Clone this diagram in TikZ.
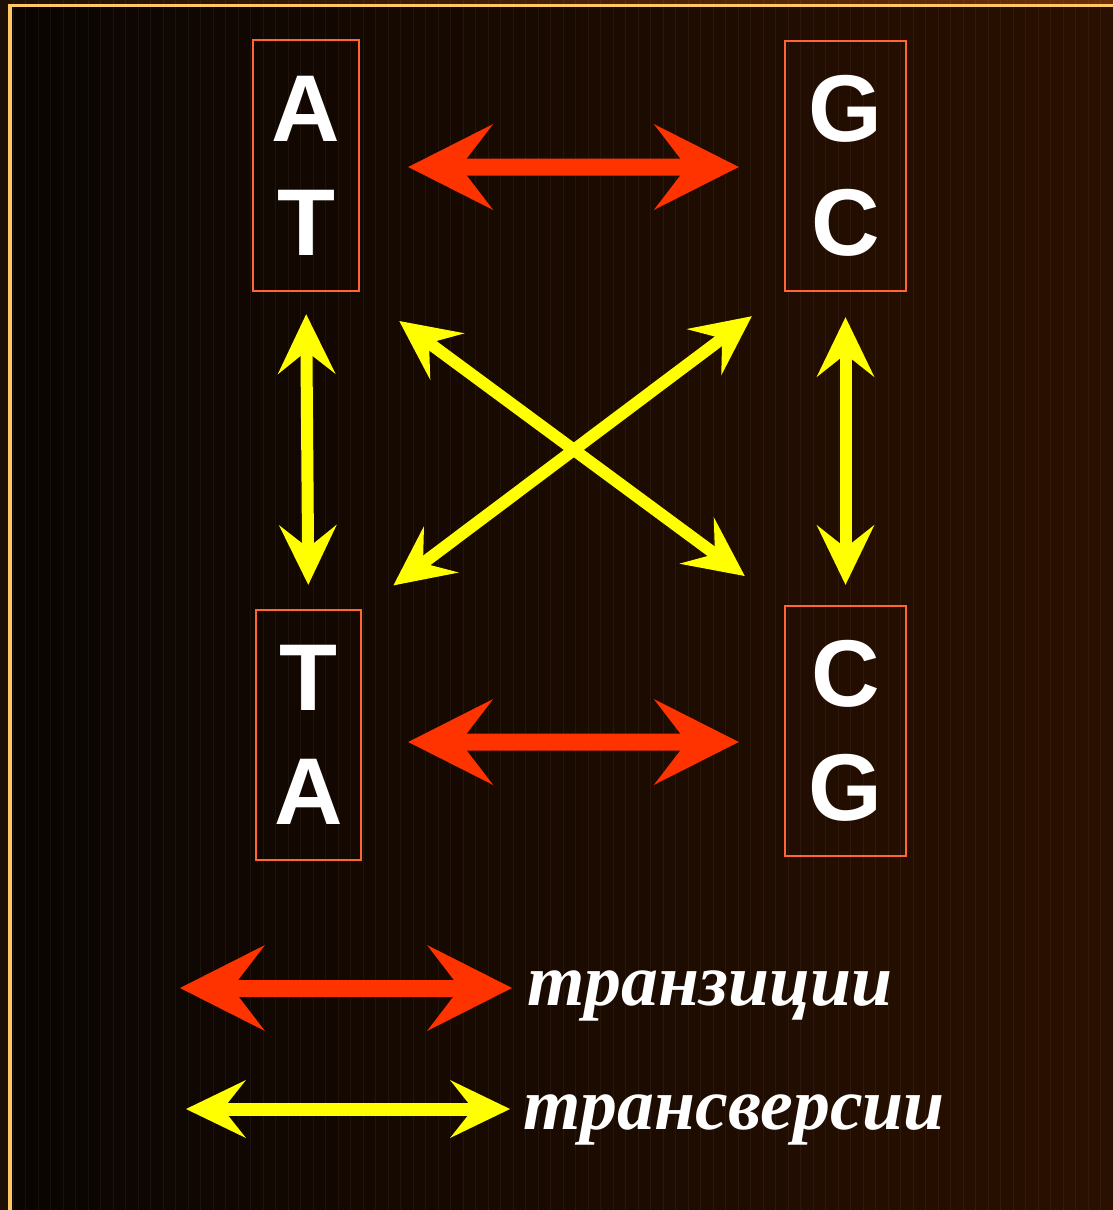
\documentclass[tikz,border=0pt]{standalone}
\usepackage{fontspec}
\setmainfont{Liberation Serif}
\newfontfamily\basefont{Liberation Sans}
\usetikzlibrary{arrows.meta}
\definecolor{mutred}{HTML}{FF3300}
\definecolor{mutyellow}{HTML}{FFFF00}
\definecolor{mutbox}{HTML}{FF6633}
\definecolor{mutgold}{HTML}{FFC864}
\definecolor{mutdark}{HTML}{0A0502}
\definecolor{mutbrown}{HTML}{2A1000}
\definecolor{mutrim}{HTML}{6A2E08}
\definecolor{mutrimdark}{HTML}{1E1006}
\tikzset{
  pair/.style={rectangle, draw=mutbox, line width=0.05cm, text=white, align=center,
               inner sep=0pt, font=\basefont\bfseries\fontsize{54pt}{65pt}\selectfont},
  transit/.style={draw=mutred, line width=0.34cm,
                  >={Stealth[length=1.7cm, width=1.72cm, inset=0.66cm, line width=0pt]}, <->},
  transvers/.style={draw=mutyellow, line width=0.24cm,
                  >={Stealth[length=1.2cm, width=1.16cm, inset=0.46cm, line width=0pt]}, <->},
  legend/.style={text=white, inner sep=0pt, font=\bfseries\itshape\fontsize{42pt}{50pt}\selectfont},
  stripe/.style={white, opacity=0.05, line width=0.5pt},
}

\begin{document}
\begin{tikzpicture}[x=0.02cm,y=-0.02cm]
  \useasboundingbox (0,0) rectangle (1113,1210);
  % slide background and frame
  \shade[left color=mutrimdark, right color=mutrim] (0,0) rectangle (1113,1210);
  \shade[left color=mutdark, right color=mutbrown] (10,5.5) rectangle (1113,1210);
  \foreach \x in {13,25.5,...,1113}
    \draw[stripe] (\x,0) -- (\x,1210);
  \draw[mutgold, line width=0.08cm] (10,1210) -- (10,5.5) -- (1113,5.5);

  % base pairs
  \node[pair, minimum width=2.12cm, minimum height=5.02cm] (pAT) at (306,165.5) {A\\T};
  \node[pair, minimum width=2.42cm, minimum height=5cm] (pGC) at (845.5,166) {G\\C};
  \node[pair, minimum width=2.1cm, minimum height=5cm] (pTA) at (308.5,735) {T\\A};
  \node[pair, minimum width=2.42cm, minimum height=5cm] (pCG) at (845.5,731) {C\\G};

  % transitions
  \draw[transit, shorten <=0.96cm, shorten >=0.9cm] ([yshift=-0.03cm]pAT.east) -- ([yshift=-0.02cm]pGC.west);
  \draw[transit, shorten <=0.92cm, shorten >=0.9cm] ([yshift=-0.14cm]pTA.east) -- ([yshift=-0.22cm]pCG.west);

  % transversions
  \draw[transvers, shorten <=0.44cm, shorten >=0.48cm] (pAT.south) -- (pTA.north);
  \draw[transvers, shorten <=0.5cm, shorten >=0.4cm] (pGC.south) -- (pCG.north);
  \draw[transvers, shorten <=0.97cm, shorten >=0.97cm] (pAT.south east) -- (pCG.north west);
  \draw[transvers, shorten <=0.8cm, shorten >=0.78cm] (pGC.south west) -- (pTA.north east);

  % legend
  \coordinate (lt1) at (180,988);
  \coordinate (lt2) at (512,988);
  \coordinate (lv1) at (186,1109);
  \coordinate (lv2) at (510,1109);
  \draw[transit] (lt1) -- (lt2);
  \draw[transvers, line width=0.26cm] (lv1) -- (lv2);
  \node[legend, anchor=base west] (ltxt) at (527,1005) {транзиции};
  \node[legend, anchor=base west] (lvtxt) at (523,1129) {трансверсии};
\end{tikzpicture}
\end{document}
